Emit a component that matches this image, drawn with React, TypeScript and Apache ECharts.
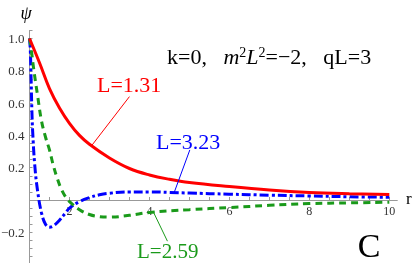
import React, { useEffect, useRef } from "react";
import * as echarts from "echarts";

const redR = [1, 1.25, 1.5, 1.75, 2, 2.25, 2.5, 3, 3.5, 4, 4.5, 5, 6, 7, 8, 9, 10];
const redPsi = [1.0, 0.85, 0.69, 0.57, 0.475, 0.4, 0.345, 0.26, 0.195, 0.155, 0.128, 0.108, 0.083, 0.062, 0.047, 0.039, 0.034];

const blueR = [1, 1.02, 1.04, 1.06, 1.08, 1.13, 1.2, 1.3, 1.4, 1.5, 1.6, 1.75, 1.9, 2.0, 2.25, 2.5, 2.75, 3, 3.5, 4, 4.5, 5, 6, 7, 8, 9, 10];
const bluePsi = [1.0, 0.93, 0.75, 0.55, 0.42, 0.22, 0.06, -0.08, -0.15, -0.168, -0.16, -0.125, -0.08, -0.05, -0.01, 0.015, 0.032, 0.042, 0.05, 0.05, 0.047, 0.043, 0.036, 0.03, 0.025, 0.02, 0.017];

const greenR = [1, 1.05, 1.1, 1.2, 1.3, 1.4, 1.5, 1.6, 1.7, 1.8, 1.9, 2, 2.25, 2.5, 2.75, 3, 3.5, 4, 5, 6, 7, 8, 9, 10];
const greenPsi = [1.0, 0.92, 0.82, 0.65, 0.49, 0.39, 0.31, 0.21, 0.13, 0.065, 0.02, -0.01, -0.06, -0.09, -0.103, -0.106, -0.095, -0.077, -0.06, -0.047, -0.033, -0.022, -0.018, -0.014];

const xLabels = [2, 4, 6, 8, 10];
const yLabels = [-0.2, 0.2, 0.4, 0.6, 0.8, 1.0];

const Y_MIN = -0.4;
const Y_MAX = 1.05;

const RED = "#ff0000";
const BLUE = "#0000ff";
const GREEN = "#1a9a1a";
const SERIF = "'Liberation Serif', 'DejaVu Serif', serif";

const zip = (xs: number[], ys: number[]) => xs.map((x, i) => [x, ys[i]]);

export default function App() {
  const ref = useRef<HTMLDivElement>(null);
  useEffect(() => {
    if (!ref.current) return;
    const chart = echarts.init(ref.current, null, { renderer: "svg" });
    const gridTop = 30.4;
    const gridBottom = -1.6;
    const gridH = 263 - gridTop - gridBottom;
    // shift x axis from grid bottom up to y = 0
    const zeroOffset = -(gridH * (0 - Y_MIN)) / (Y_MAX - Y_MIN);
    const leader = (color: string, a: number[], b: number[]) => ({
      silent: true,
      symbol: "none",
      label: { show: false },
      lineStyle: { color, width: 1, type: "solid" },
      data: [[{ coord: a }, { coord: b }]],
    });
    chart.setOption({
      animation: false,
      grid: { left: 29.5, right: 17.7, top: gridTop, bottom: gridBottom, containLabel: false, outerBoundsMode: "none" },
      xAxis: {
        type: "value",
        min: 1,
        max: 10.2,
        interval: 0.5,
        position: "bottom",
        offset: zeroOffset,
        axisLine: { onZero: false, lineStyle: { color: "#999", width: 1 } },
        axisTick: { inside: true, length: 3, lineStyle: { color: "#999" } },
        splitLine: { show: false },
        axisLabel: {
          margin: 5,
          fontFamily: SERIF,
          fontSize: 12,
          color: "#333",
          showMaxLabel: false,
          formatter: (v: number) => (xLabels.some((t) => Math.abs(t - v) < 1e-6) ? String(Math.round(v)) : ""),
        },
      },
      yAxis: {
        type: "value",
        min: Y_MIN,
        max: Y_MAX,
        interval: 0.05,
        axisLine: { onZero: false, lineStyle: { color: "#999", width: 1 } },
        axisTick: { inside: true, length: 3, lineStyle: { color: "#999" } },
        splitLine: { show: false },
        axisLabel: {
          margin: 5,
          fontFamily: SERIF,
          fontSize: 13,
          color: "#333",
          formatter: (v: number) => {
            const t = yLabels.find((l) => Math.abs(l - v) < 1e-6);
            if (t === undefined) return "";
            return t < 0 ? "\u2212" + Math.abs(t).toFixed(1) : t.toFixed(1);
          },
        },
      },
      series: [
        {
          type: "line",
          data: zip(redR, redPsi),
          smooth: 0.4,
          showSymbol: false,
          clip: false,
          lineStyle: { color: RED, width: 3 },
          markLine: leader(RED, [2.55, 0.335], [3.5, 0.64]),
          z: 3,
        },
        {
          type: "line",
          data: zip(blueR, bluePsi),
          smooth: 0.4,
          showSymbol: false,
          clip: false,
          lineStyle: { color: BLUE, width: 3, type: [9, 3, 3, 3] },
          markLine: leader(BLUE, [4.62, 0.047], [5.01, 0.31]),
          z: 2,
        },
        {
          type: "line",
          data: zip(greenR, greenPsi),
          smooth: 0.4,
          showSymbol: false,
          clip: false,
          lineStyle: { color: GREEN, width: 3, type: [7, 5] },
          markLine: leader(GREEN, [4.1, -0.075], [4.45, -0.255]),
          z: 2,
        },
      ],
      graphic: [
        { type: "text", x: 26, y: 13, style: { text: "\u03c8", font: `italic 18px ${SERIF}`, fill: "#000", align: "center", verticalAlign: "middle" } },
        { type: "text", x: 406, y: 198, style: { text: "r", font: `17px ${SERIF}`, fill: "#000", align: "left", verticalAlign: "middle" } },
        { type: "text", x: 97, y: 84, style: { text: "L=1.31", font: `22px ${SERIF}`, fill: RED, align: "left", verticalAlign: "middle" } },
        { type: "text", x: 156, y: 141, style: { text: "L=3.23", font: `22px ${SERIF}`, fill: BLUE, align: "left", verticalAlign: "middle" } },
        { type: "text", x: 137, y: 251, style: { text: "L=2.59", font: `21px ${SERIF}`, fill: GREEN, align: "left", verticalAlign: "middle" } },
        { type: "text", x: 369, y: 245, style: { text: "C", font: `34px ${SERIF}`, fill: "#000", align: "center", verticalAlign: "middle" } },
        {
          type: "text",
          x: 167,
          y: 56,
          style: {
            text: "k=0,   {i|m}{s|2}{i|L}{s|2}=\u22122,   qL=3",
            fontSize: 22,
            fontFamily: SERIF,
            fill: "#000",
            align: "left",
            verticalAlign: "middle",
            rich: {
              i: { fontStyle: "italic", fontSize: 22, fontFamily: SERIF, fill: "#000" },
              s: { fontSize: 14, fontFamily: SERIF, fill: "#000", verticalAlign: "top" },
            },
          },
        },
      ],
    });
    return () => chart.dispose();
  }, []);
  return <div ref={ref} style={{ position: "fixed", left: 0, top: 0, width: 415, height: 263 }} />;
}
